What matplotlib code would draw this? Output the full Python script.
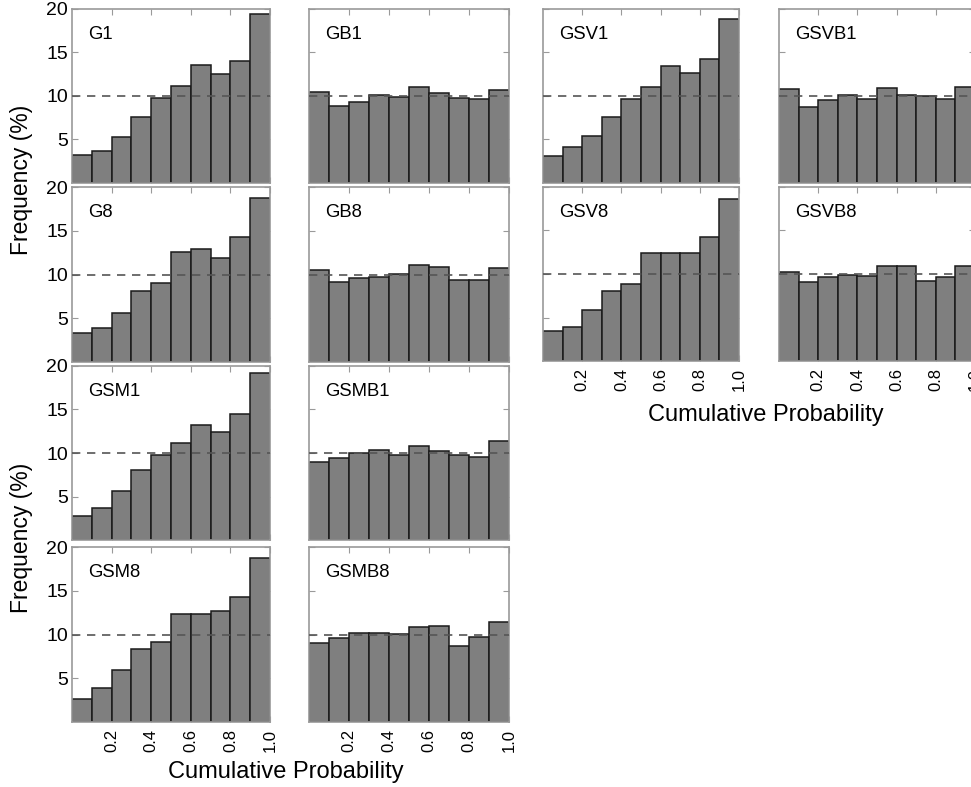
import numpy as np
import matplotlib
matplotlib.use("Agg")
import matplotlib.pyplot as plt

plt.rcParams['font.family'] = ['Liberation Sans', 'DejaVu Sans']

# Frequency (%) of each of ten cumulative-probability bins
bin_centers = [0.05, 0.15, 0.25, 0.35, 0.45, 0.55, 0.65, 0.75, 0.85, 0.95]
x_ticks = [0.2, 0.4, 0.6, 0.8, 1.0]
x_tick_labels = ["0.2", "0.4", "0.6", "0.8", "1.0"]
y_ticks = [5, 10, 15, 20]
y_tick_labels = ["5", "10", "15", "20"]

G1 = [3.2, 3.7, 5.3, 7.6, 9.8, 11.15, 13.6, 12.5, 14.0, 19.4]
GB1 = [10.5, 8.85, 9.27, 10.08, 9.85, 11.08, 10.3, 9.8, 9.6, 10.65]
G8 = [3.3, 3.9, 5.6, 8.1, 9.05, 12.6, 12.9, 11.9, 14.3, 18.8]
GB8 = [10.5, 9.2, 9.6, 9.7, 10.04, 11.08, 10.9, 9.4, 9.4, 10.8]
GSM1 = [2.75, 3.7, 5.6, 8.1, 9.8, 11.2, 13.25, 12.4, 14.5, 19.2]
GSMB1 = [8.97, 9.4, 9.96, 10.4, 9.8, 10.8, 10.27, 9.8, 9.5, 11.33]
GSM8 = [2.65, 3.9, 5.9, 8.4, 9.2, 12.3, 12.4, 12.65, 14.3, 18.8]
GSMB8 = [9.04, 9.6, 10.2, 10.2, 10.04, 10.9, 10.96, 8.7, 9.77, 11.4]
GSV1 = [3.15, 4.1, 5.35, 7.6, 9.6, 11.0, 13.5, 12.7, 14.3, 18.8]
GSVB1 = [10.8, 8.7, 9.5, 10.1, 9.65, 10.9, 10.15, 9.96, 9.65, 11.0]
GSV8 = [3.4, 3.96, 5.9, 8.0, 8.85, 12.4, 12.4, 12.4, 14.3, 18.65]
GSVB8 = [10.27, 9.08, 9.7, 9.92, 9.8, 10.88, 10.88, 9.15, 9.7, 10.88]

W, H = 971, 787
fig = plt.figure(figsize=(W / 100, H / 100), dpi=100)

BAR_FACE = "#7f7f7f"
BAR_EDGE = "#1a1a1a"
SPINE = "#9a9a9a"


def panel(rect_px, name, values, show_y, show_x):
    x0, y0, x1, y1 = rect_px
    ax = fig.add_axes([x0 / W, 1 - y1 / H, (x1 - x0) / W, (y1 - y0) / H])
    ax.bar(bin_centers, values, width=0.1, color=BAR_FACE,
           edgecolor=BAR_EDGE, linewidth=1.1, zorder=2)
    ax.axhline(10, color="#555555", linestyle=(0, (5, 4)), linewidth=1.2, zorder=3)
    ax.set_xlim(0, 1)
    ax.set_ylim(0, 20)
    ax.set_xticks(x_ticks)
    ax.set_yticks(y_ticks)
    ax.tick_params(direction="in", length=4, width=0.8, color=SPINE,
                   top=True, right=True)
    ax.tick_params(axis="y", labelsize=14, pad=3)
    ax.tick_params(axis="x", labelsize=12, pad=5)
    if show_y:
        ax.set_yticklabels(y_tick_labels)
    else:
        ax.set_yticklabels([])
    if show_x:
        ax.set_xticklabels(x_tick_labels, rotation=90)
    else:
        ax.set_xticklabels([])
    for s in ax.spines.values():
        s.set_color(SPINE)
        s.set_linewidth(1.2)
    ax.text(0.08, 0.855, name, transform=ax.transAxes, fontsize=13.3,
            ha="left", va="center")
    return ax


# Left block: 4 rows x 2 columns
cols_left = [(72, 270), (309, 509)]
rows_left = [(9, 183), (187, 362), (366, 540), (547, 722)]
left_data = [(("G1", G1), ("GB1", GB1)),
             (("G8", G8), ("GB8", GB8)),
             (("GSM1", GSM1), ("GSMB1", GSMB1)),
             (("GSM8", GSM8), ("GSMB8", GSMB8))]
for r, (ry0, ry1) in enumerate(rows_left):
    for c, (cx0, cx1) in enumerate(cols_left):
        name, vals = left_data[r][c]
        panel((cx0, ry0, cx1, ry1), name, vals, show_y=(c == 0), show_x=(r == 3))

# Right block: 2 rows x 2 columns
cols_right = [(543, 739), (779, 975)]
rows_right = [(9, 183), (187, 361)]
right_data = [(("GSV1", GSV1), ("GSVB1", GSVB1)),
              (("GSV8", GSV8), ("GSVB8", GSVB8))]
for r, (ry0, ry1) in enumerate(rows_right):
    for c, (cx0, cx1) in enumerate(cols_right):
        name, vals = right_data[r][c]
        panel((cx0, ry0, cx1, ry1), name, vals, show_y=False, show_x=(r == 1))

# Shared axis titles
fig.text(22 / W, 1 - 180 / H, "Frequency (%)", rotation=90, fontsize=16.5,
         ha="center", va="center")
fig.text(22 / W, 1 - 538 / H, "Frequency (%)", rotation=90, fontsize=16.5,
         ha="center", va="center")
fig.text(286 / W, 1 - 772 / H, "Cumulative Probability", fontsize=17,
         ha="center", va="center")
fig.text(766 / W, 1 - 415 / H, "Cumulative Probability", fontsize=17,
         ha="center", va="center")

fig.savefig("out.png", dpi=100)
